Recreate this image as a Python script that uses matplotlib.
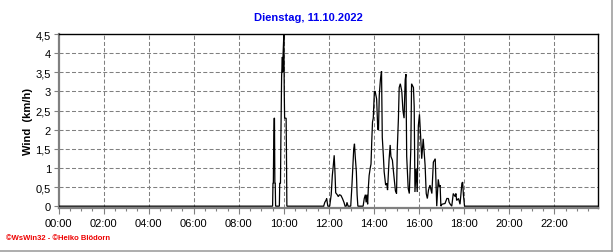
import matplotlib
matplotlib.use("Agg")
import matplotlib.pyplot as plt
from matplotlib.ticker import MultipleLocator, FixedLocator, FixedFormatter
from matplotlib.lines import Line2D

plt.rcParams['lines.scale_dashes'] = False
plt.rcParams['font.family'] = ['Liberation Sans', 'DejaVu Sans']

title = "Dienstag, 11.10.2022"
ylabel = "Wind  (km/h)"
footer = "\u00a9WsWin32 - \u00a9Heiko Bl\u00f6dorn"

times = [
    "00:00", "09:30", "09:31", "09:32", "09:33", "09:34", "09:35", "09:36", "09:37", "09:38",
    "09:48", "09:49", "09:51", "09:52", "09:54", "09:56", "09:57", "09:58", "10:00", "10:01",
    "10:02", "10:06", "10:07", "10:08",
    "11:46", "11:49", "11:52", "11:54", "11:57", "12:02", "12:06", "12:09", "12:11", "12:14",
    "12:16", "12:18", "12:22", "12:25", "12:28", "12:32", "12:36", "12:40", "12:43", "12:46",
    "12:48", "12:51", "12:58", "13:01", "13:04", "13:06", "13:08", "13:10", "13:13", "13:15",
    "13:17", "13:31", "13:34", "13:37", "13:39", "13:41", "13:43", "13:45", "13:47", "13:50",
    "13:52", "13:54", "13:56", "13:58", "14:01", "14:03", "14:05", "14:07", "14:10", "14:12",
    "14:14", "14:17", "14:20", "14:22", "14:25", "14:27", "14:31", "14:34", "14:36", "14:40",
    "14:43", "14:45", "14:49", "14:51", "14:54", "14:57", "15:00", "15:02", "15:05", "15:07",
    "15:10", "15:14", "15:17", "15:20", "15:23", "15:25", "15:27", "15:31", "15:34", "15:38",
    "15:40", "15:45", "15:47", "15:49", "15:52", "15:55", "15:58", "16:01", "16:04", "16:07",
    "16:11", "16:16", "16:19", "16:22", "16:25", "16:29", "16:34", "16:38", "16:43", "16:45",
    "16:47", "16:51", "16:54", "16:56", "16:58", "17:01", "17:09", "17:14", "17:18", "17:20",
    "17:23", "17:27", "17:31", "17:36", "17:38", "17:40", "17:45", "17:49", "17:54", "17:56",
    "17:58", "18:01", "23:55",
]
wind = [
    0, 0, 0.6, 0.6, 1.7, 2.3, 2.3, 0.6, 0.6, 0,
    0, 0.6, 0.6, 1.7, 3.4, 3.9, 3.5, 4.0, 4.5, 3.0,
    2.3, 2.3, 1.3, 0,
    0, 0.1, 0.15, 0.2, 0, 0, 0.3, 0.8, 1.0, 1.33,
    0.9, 0.35, 0.3, 0.25, 0.3, 0.28, 0.2, 0.1, 0, 0,
    0.1, 0, 0, 0.5, 1.1, 1.5, 1.63, 1.3, 0.9, 0.3,
    0, 0, 0.2, 0.3, 0.1, 0.3, 0.05, 0.5, 0.8, 1.0,
    1.1, 1.7, 2.2, 2.3, 3.0, 3.0, 2.9, 2.8, 2.0, 2.0,
    2.9, 3.3, 3.53, 1.8, 1.3, 0.9, 0.55, 0.6, 0.42, 1.2,
    1.6, 1.3, 1.2, 0.98, 0.7, 0.4, 0.33, 1.5, 2.3, 3.1,
    3.2, 3.0, 2.5, 2.3, 3.3, 3.45, 1.3, 0.46, 0.33, 1.5,
    3.2, 3.1, 2.6, 0.37, 0.98, 0.37, 2.1, 2.4, 1.85, 1.24,
    1.76, 1.07, 0.33, 0.2, 0.42, 0.55, 0.33, 1.15, 1.24, 0.6,
    0, 0.7, 0.5, 0.55, 0, 0.05, 0.07, 0.2, 0.2, 0.1,
    0.05, 0, 0.33, 0.25, 0.33, 0.15, 0.2, 0.05, 0.6, 0.63,
    0.3, 0, 0,
]

x_tick_labels = ["00:00", "02:00", "04:00", "06:00", "08:00", "10:00",
                 "12:00", "14:00", "16:00", "18:00", "20:00", "22:00"]
y_ticks = [0, 0.5, 1, 1.5, 2, 2.5, 3, 3.5, 4, 4.5]

hours = [int(t[:2]) + int(t[3:]) / 60 for t in times]

W, H = 616, 253
fig = plt.figure(figsize=(W / 100, H / 100), dpi=100)
fig.patch.set_facecolor('white')

L, R, T, B = 58.5, 597.5, 35, 208.5
ax = fig.add_axes([L / W, 1 - B / H, (R - L) / W, (B - T) / H])

ax.plot(hours, wind, color='black', lw=0.9, zorder=3, solid_joinstyle='miter')

ax.set_xlim(0, 23 + 55 / 60)
ax.set_ylim(-0.035, 4.5)

# ticks
xt = [2 * i for i in range(len(x_tick_labels))]
ax.xaxis.set_major_locator(FixedLocator(xt))
ax.xaxis.set_major_formatter(FixedFormatter(x_tick_labels))
ax.xaxis.set_minor_locator(MultipleLocator(0.5))
ax.yaxis.set_major_locator(FixedLocator(y_ticks))
ax.yaxis.set_major_formatter(FixedFormatter([f"{v:g}".replace('.', ',') for v in y_ticks]))

ax.tick_params(axis='x', which='major', length=4.5, width=0.8, color='#808080',
               labelsize=8, pad=3, direction='out')
ax.tick_params(axis='x', which='minor', length=2.5, width=0.8, color='#808080', direction='out')
ax.tick_params(axis='y', which='major', length=3.5, width=0.8, color='#808080',
               labelsize=8, pad=2, direction='out')

# grid
gray = '#808080'
for x in xt[1:]:
    ax.axvline(x, color=gray, lw=0.75, linestyle=(0, (2.9, 1.6)), zorder=1)
for y in y_ticks[1:-1]:
    ax.axhline(y, color=gray, lw=0.75, linestyle=(0, (2.9, 1.6)), zorder=1)

for s in ['top', 'right']:
    ax.spines[s].set_color('black')
    ax.spines[s].set_linewidth(1.0)
for s in ['left', 'bottom']:
    ax.spines[s].set_color(gray)
    ax.spines[s].set_linewidth(1.6)

ax.set_ylabel(ylabel, fontsize=8, fontweight='bold', labelpad=2)

fig.text(308 / W, 1 - 18 / H, title, ha='center', va='center', color='#0000ee',
         fontsize=8, fontweight='bold')
fig.text(6 / W, 1 - 238.5 / H, footer, ha='left', va='center', color='#ee0000',
         fontsize=5.5, fontweight='bold')

# outer frame (right and bottom)
fig.add_artist(Line2D([611.5 / W, 611.5 / W], [1 - 251.5 / H, 1], transform=fig.transFigure,
                      color='#a0a0a0', lw=1.2))
fig.add_artist(Line2D([0, 611.5 / W], [1 - 251.5 / H, 1 - 251.5 / H], transform=fig.transFigure,
                      color='#a0a0a0', lw=1.2))

fig.savefig('out.png', dpi=100)
